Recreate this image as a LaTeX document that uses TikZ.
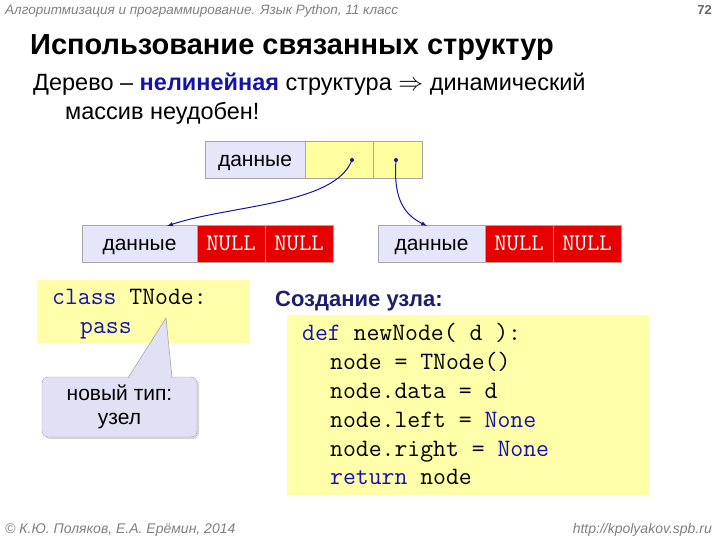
\documentclass[tikz,border=0pt]{standalone}
\usepackage{fontspec}
\setmainfont{Liberation Sans}
\usetikzlibrary{shadows}
\definecolor{cellb}{RGB}{230,230,250}
\definecolor{celly}{RGB}{255,255,160}
\definecolor{codey}{RGB}{255,255,170}
\definecolor{nullr}{RGB}{230,0,0}
\definecolor{kw}{RGB}{20,20,170}
\definecolor{dblue}{RGB}{30,30,110}
\definecolor{calb}{RGB}{225,225,245}
\begin{document}
\begin{tikzpicture}[x=1pt,y=-1pt,
  cell/.style={draw=gray!70,line width=0.6pt,minimum height=37pt,inner sep=0pt,text height=15pt,text depth=1pt,font=\fontsize{21}{21}\selectfont},
  dcell/.style={cell,fill=cellb},
  ycell/.style={cell,fill=celly},
  ncell/.style={cell,fill=nullr,text=white,font=\ttfamily\fontsize{24}{24}\selectfont},
  code/.style={anchor=base west,inner sep=0pt,font=\ttfamily\fontsize{25}{25}\selectfont},
  ptr/.style={-latex,draw=kw,line width=1pt}]
\useasboundingbox (0,0) rectangle (720,540);
\fill[white] (0,0) rectangle (720,540);
\node[anchor=base west,inner sep=0pt,text=gray,font=\itshape\fontsize{13.5}{13.5}\selectfont] (hd) at (5,15) {Алгоритмизация и программирование. Язык Python, 11 класс};
\node[anchor=base east,inner sep=0pt,text=gray!80!black,font=\bfseries\fontsize{13}{13}\selectfont] (pg) at (712,15) {72};
\node[anchor=base west,inner sep=0pt,font=\bfseries\fontsize{29}{29}\selectfont] (tt) at (30,55) {Использование связанных структур};
\node[anchor=base west,inner sep=0pt,font=\fontsize{23.5}{23.5}\selectfont] (l1) at (33,91) {Дерево – \textcolor{kw}{\bfseries нелинейная} структура $\Rightarrow$ динамический};
\node[anchor=base west,inner sep=0pt,font=\fontsize{23.5}{23.5}\selectfont] (l2) at (65,120) {массив неудобен!};
% top node
\node[dcell,minimum width=100pt] (t0) at (255,160) {данные};
\node[ycell,minimum width=68pt] (t1) at (339,160) {};
\node[ycell,minimum width=49pt] (t2) at (397.5,160) {};
% bottom left
\node[dcell,minimum width=115pt] (a0) at (139.5,244) {данные};
\node[ncell,minimum width=68pt] (a1) at (231,244) {NULL};
\node[ncell,minimum width=68pt] (a2) at (299,244) {NULL};
% bottom right
\node[dcell,minimum width=107pt] (b0) at (431.5,244) {данные};
\node[ncell,minimum width=68pt] (b1) at (519,244) {NULL};
\node[ncell,minimum width=68pt] (b2) at (587,244) {NULL};
\coordinate (p1) at (352,160);
\coordinate (p2) at (396,160);
\coordinate (e1) at (167,226);
\coordinate (e2) at (427,226);
\fill[kw] (p1) circle (2pt);
\fill[kw] (p2) circle (2pt);
\draw[ptr] (p1) .. controls (335,205) and (230,205) .. (e1);
\draw[ptr] (p2) .. controls (393,200) and (405,215) .. (e2);
% class box
\fill[codey] (37,280) rectangle (250,343);
\node[code] (c1) at (52,304) {\textcolor{kw}{class} TNode:};
\node[code] (c2) at (80,333) {\textcolor{kw}{pass}};
\node[draw=gray!70,fill=calb,rounded corners=6pt,minimum width=155pt,minimum height=60pt,align=center,drop shadow={shadow xshift=2pt,shadow yshift=-2pt,fill=gray!60},font=\fontsize{21}{24}\selectfont] (cal) at (119.5,407) {новый тип:\\узел};
\fill[calb] (128,378.5) -- (166,318) -- (172,378.5) -- cycle;
\draw[gray!70,line width=0.6pt] (128,378) -- (166,318) -- (172,378);
% right
\node[anchor=base west,inner sep=0pt,text=dblue,font=\bfseries\fontsize{22}{22}\selectfont] (cr) at (275,306) {Создание узла:};
\fill[codey] (287,315) rectangle (650,495);
\node[code] (d1) at (302,340) {\textcolor{kw}{def} newNode( d ):};
\node[code] (d2) at (330,369) {node = TNode()};
\node[code] (d3) at (330,398) {node.data = d};
\node[code] (d4) at (330,427) {node.left = \textcolor{kw}{None}};
\node[code] (d5) at (330,456) {node.right = \textcolor{kw}{None}};
\node[code] (d6) at (330,484) {\textcolor{kw}{return} node};
% footer
\node[anchor=base west,inner sep=0pt,text=gray,font=\itshape\fontsize{14}{14}\selectfont] (f1) at (5,533) {© К.Ю. Поляков, Е.А. Ерёмин, 2014};
\node[anchor=base east,inner sep=0pt,text=gray,font=\itshape\fontsize{14}{14}\selectfont] (f2) at (712,533) {http://kpolyakov.spb.ru};
\end{tikzpicture}
\end{document}
